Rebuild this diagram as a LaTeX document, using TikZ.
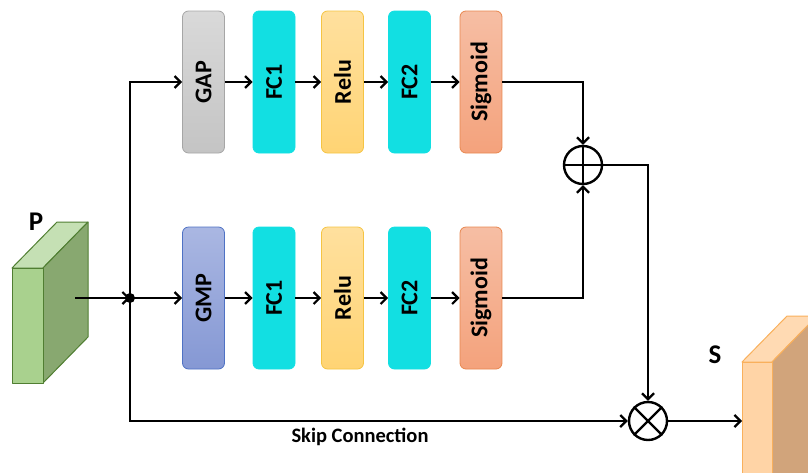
\documentclass[tikz,border=0pt]{standalone}
\usepackage{fontspec}
\setmainfont{Carlito}
\usetikzlibrary{arrows.meta}
\definecolor{gapT}{HTML}{D9D9D9}\definecolor{gapB}{HTML}{C4C4C4}\definecolor{gapD}{HTML}{A6A6A6}
\definecolor{fcC}{HTML}{12DFE2}
\definecolor{reluT}{HTML}{FFE09E}\definecolor{reluB}{HTML}{FFD474}\definecolor{reluD}{HTML}{F5C443}
\definecolor{sigT}{HTML}{F6BEA4}\definecolor{sigB}{HTML}{F4A27C}\definecolor{sigD}{HTML}{E8874F}
\definecolor{gmpT}{HTML}{AAB7E2}\definecolor{gmpB}{HTML}{8598D4}\definecolor{gmpD}{HTML}{4F72C4}
\definecolor{pFront}{HTML}{A9D18E}\definecolor{pTop}{HTML}{C5E0B4}\definecolor{pSide}{HTML}{88A870}\definecolor{pDraw}{HTML}{507E32}
\definecolor{sFront}{HTML}{FFD4A6}\definecolor{sSide}{HTML}{D1A47B}\definecolor{sDraw}{HTML}{F9B05C}
\tikzset{
  blk/.style={rounded corners=6pt, minimum width=42pt, minimum height=142pt, inner sep=0pt, line width=0.8pt, font=\fontsize{24}{24}\selectfont\bfseries},
  gapbox/.style={blk, top color=gapT, bottom color=gapB, draw=gapD},
  gmpbox/.style={blk, top color=gmpT, bottom color=gmpB, draw=gmpD},
  fcbox/.style={blk, fill=fcC, draw=fcC},
  relubox/.style={blk, top color=reluT, bottom color=reluB, draw=reluD},
  sigbox/.style={blk, top color=sigT, bottom color=sigB, draw=sigD},
  conn/.style={line width=2.2pt, -{Straight Barb[length=6pt,width=12pt,line width=2.2pt]}},
  opnode/.style={circle, draw, line width=2.4pt, minimum size=38pt, inner sep=0pt},
  lbl/.style={font=\fontsize{27}{27}\selectfont\bfseries}
}
\begin{document}
\begin{tikzpicture}[x=1pt,y=-1pt]
\useasboundingbox (0,0) rectangle (808,472);
\clip (0,0) rectangle (808,472);
% P cube
\begin{scope}[line width=1pt, draw=pDraw, line join=round]
\filldraw[fill=pTop] (12,268) -- (43,268) -- (88,222) -- (57,222) -- cycle;
\filldraw[fill=pSide] (43,268) -- (88,222) -- (88,337) -- (43,383) -- cycle;
\filldraw[fill=pFront] (12,268) rectangle (43,383);
\end{scope}
\node[lbl] (P) at (36,222) {P};
\coordinate (pout) at (75,298);
% S cube
\begin{scope}[line width=1pt, draw=sDraw, line join=round]
\filldraw[fill=sFront!85!white] (742,362) -- (772,362) -- (817,316) -- (787,316) -- cycle;
\filldraw[fill=sSide] (772,362) -- (817,316) -- (817,520) -- (772,566) -- cycle;
\filldraw[fill=sFront] (742,362) rectangle (772,520);
\end{scope}
\node[lbl] (S) at (715,355) {S};
\coordinate (sin) at (742,421);
% top branch
\node[gapbox] (gap) at (203.5,82) {\rotatebox{90}{GAP}};
\node[fcbox] (fc1a) at (274,82) {\rotatebox{90}{FC1}};
\node[relubox] (relua) at (342.5,82) {\rotatebox{90}{Relu}};
\node[fcbox] (fc2a) at (409.5,82) {\rotatebox{90}{FC2}};
\node[sigbox] (siga) at (481,82) {\rotatebox{90}{Sigmoid}};
% bottom branch
\node[gmpbox] (gmp) at (203.5,298) {\rotatebox{90}{GMP}};
\node[fcbox] (fc1b) at (274,298) {\rotatebox{90}{FC1}};
\node[relubox] (relub) at (342.5,298) {\rotatebox{90}{Relu}};
\node[fcbox] (fc2b) at (409.5,298) {\rotatebox{90}{FC2}};
\node[sigbox] (sigb) at (481,298) {\rotatebox{90}{Sigmoid}};
% operators
\node[opnode] (plus) at (583,165) {};
\draw[line width=2.4pt] (plus.north) -- (plus.south) (plus.west) -- (plus.east);
\node[opnode] (times) at (648,421) {};
\draw[line width=2.4pt] (times.north east) -- (times.south west) (times.north west) -- (times.south east);
% junction dot
\coordinate (dot) at (130,298);
\fill (dot) circle (5pt);
% connectors
\draw[conn] (pout) -- (dot);
\draw[conn] (dot) |- (gap.west);
\draw[conn] (dot) -- (gmp.west);
\draw[conn] (gap) -- (fc1a);
\draw[conn] (fc1a) -- (relua);
\draw[conn] (relua) -- (fc2a);
\draw[conn] (fc2a) -- (siga);
\draw[conn] (gmp) -- (fc1b);
\draw[conn] (fc1b) -- (relub);
\draw[conn] (relub) -- (fc2b);
\draw[conn] (fc2b) -- (sigb);
\draw[conn] (siga.east) -| (plus.north);
\draw[conn] (sigb.east) -| (plus.south);
\draw[conn] (plus.east) -| (times.north);
\draw[conn] (dot) |- (times.west);
\node[font=\fontsize{20.5}{20.5}\selectfont\bfseries] (skip) at (360,437) {Skip Connection};
\draw[conn] (times.east) -- (sin);
\end{tikzpicture}
\end{document}
